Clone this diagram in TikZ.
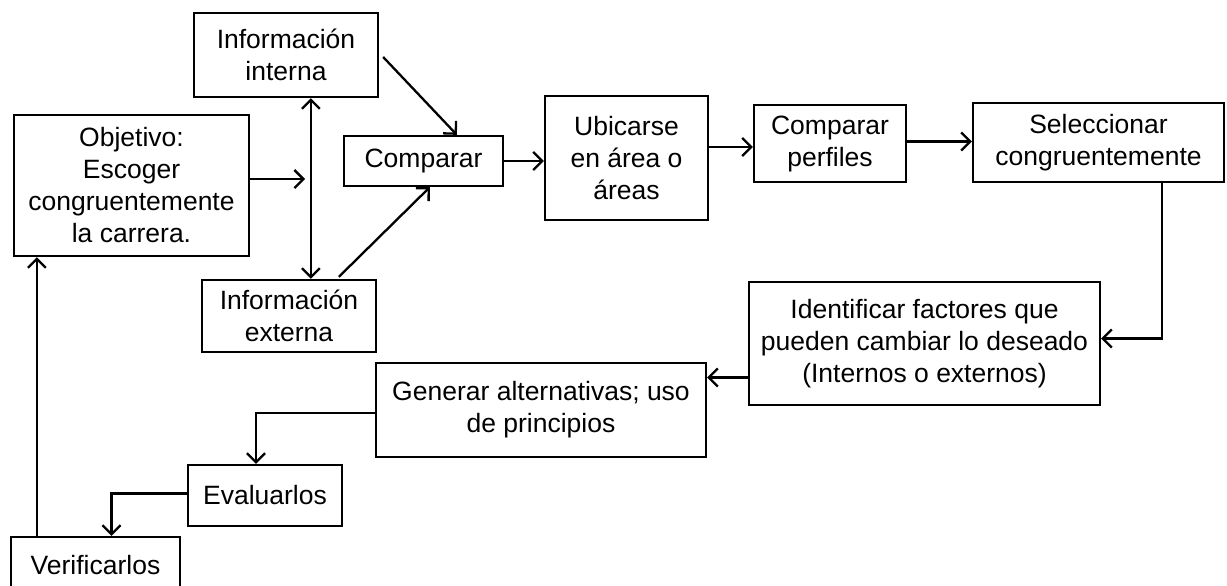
\documentclass[tikz,border=0pt]{standalone}
\usepackage{fontspec}
\setmainfont{Liberation Sans}
\usetikzlibrary{arrows.meta,calc}
\begin{document}
\begin{tikzpicture}[x=1pt,y=-1pt,
  box/.style={draw,line width=2.3pt,rectangle,inner sep=0pt,align=center,
    font=\fontsize{26.5}{32}\selectfont},
  conn/.style={line width=2.3pt,-{Straight Barb[length=9pt,width=18pt]}},
  conn2/.style={line width=2.3pt,{Straight Barb[length=9pt,width=18pt]}-{Straight Barb[length=9pt,width=18pt]}}]
\useasboundingbox (0,0) rectangle (1227,586);
\node[box,minimum width=184pt,minimum height=84pt] (interna) at (286,55) {Información\\interna};
\node[box,minimum width=159pt,minimum height=50pt] (cmp) at (423.5,161) {Comparar};
\node[box,minimum width=174pt,minimum height=72pt] (externa) at (289,316) {Información\\externa};
\node[box,minimum width=235pt,minimum height=141pt] (obj) at (131.5,185.5) {Objetivo:\\Escoger\\congruentemente\\la carrera.};
\node[box,minimum width=163pt,minimum height=124pt] (ubic) at (626.5,158) {Ubicarse\\en área o\\áreas};
\node[box,minimum width=152pt,minimum height=77pt] (perf) at (830,143.5) {Comparar\\perfiles};
\node[box,minimum width=251pt,minimum height=79pt] (selec) at (1098.5,142.5) {Seleccionar\\congruentemente};
\node[box,minimum width=351pt,minimum height=123pt] (ident) at (924.5,343.5) {Identificar factores que\\pueden cambiar lo deseado\\(Internos o externos)};
\node[box,minimum width=330pt,minimum height=94pt] (gen) at (541,410) {Generar alternativas; uso\\de principios};
\node[box,minimum width=154pt,minimum height=61pt] (eval) at (265,495.5) {Evaluarlos};
\node[box,minimum width=169pt,minimum height=56pt] (verif) at (95.5,565) {Verificarlos};
% connectors
\coordinate (objend) at (305,179);
\draw[conn] (obj.east |- objend) -- (objend);
\draw[conn2] ($(interna.south west)+(118,0)$) -- ($(externa.north west)+(110,0)$);
\draw[conn] ($(interna.east)+(4,2)$) -- ($(cmp.north west)+(114,0)$);
\draw[conn] ($(externa.north west)+(138,-2)$) -- ($(cmp.south west)+(87,0)$);
\draw[conn] (cmp.east) -- (ubic.west |- cmp.east);
\draw[conn] ($(ubic.east)+(0,-11)$) -- (perf.west |- {$(ubic.east)+(0,-11)$});
\draw[conn] ($(perf.east)+(0,-2)$) -- (selec.west |- {$(perf.east)+(0,-2)$});
\draw[conn] ($(selec.south east)+(-63,0)$) |- ($(ident.east)+(0,-5)$);
\draw[conn] ($(ident.west)+(0,34)$) -- (gen.east |- {$(ident.west)+(0,34)$});
\draw[conn] ($(gen.west)+(0,3)$) -| ($(eval.north)+(-9,0)$);
\draw[conn] ($(eval.west)+(0,-2)$) -| ($(verif.north)+(16,0)$);
\draw[conn] ($(verif.north west)+(27,0)$) -- ($(obj.south west)+(24,0)$);
\end{tikzpicture}
\end{document}
